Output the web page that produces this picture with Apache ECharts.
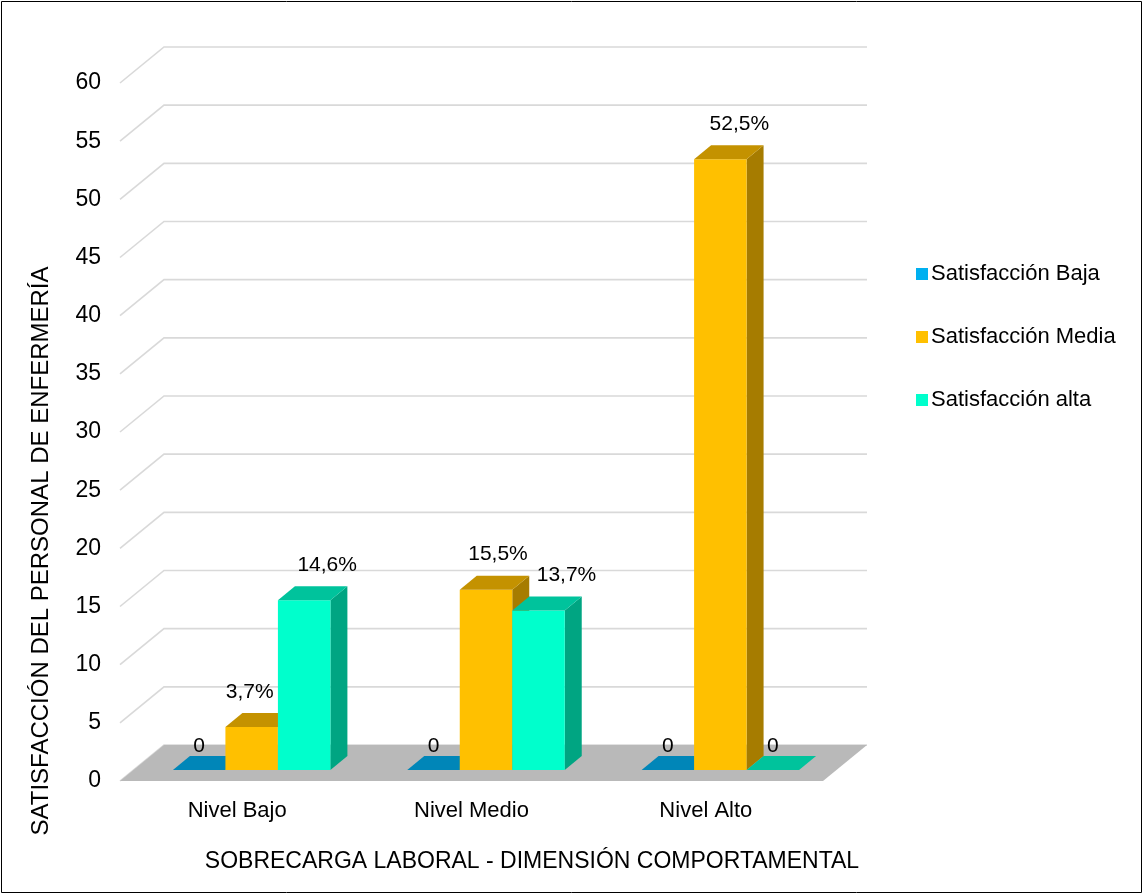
<!DOCTYPE html>
<html>
<head>
<meta charset="utf-8">
<script src="https://cdn.jsdelivr.net/npm/echarts@6/dist/echarts.min.js"></script>
<style>
  html, body { margin: 0; padding: 0; background: #fff; }
  #chart { width: 1144px; height: 896px; }
</style>
</head>
<body>
<div id="chart"></div>
<script>
// ---- data ----
const categories = ['Nivel Bajo', 'Nivel Medio', 'Nivel Alto'];
const seriesNames = ['Satisfacción Baja', 'Satisfacción Media', 'Satisfacción alta'];
const satisfaccionBaja = [0, 0, 0];
const satisfaccionMedia = [3.7, 15.5, 52.5];
const satisfaccionAlta = [14.6, 13.7, 0];
const yTicks = [0, 5, 10, 15, 20, 25, 30, 35, 40, 45, 50, 55, 60];

const xTitle = 'SOBRECARGA LABORAL - DIMENSIÓN COMPORTAMENTAL';
const yTitle = 'SATISFACCIÓN DEL PERSONAL DE ENFERMERÍA';

// ---- styling ----
const FONT = '"Liberation Sans", Arial, sans-serif';
const faceColors = [
  { front: '#00B0F0', top: '#0086B8', side: '#006E99' },
  { front: '#FFC000', top: '#C49200', side: '#A67C00' },
  { front: '#00FFCC', top: '#00C39C', side: '#00A582' }
];
const WALL_DEPTH = [44, -36];   // floor / side wall depth vector
const BAR_SHIFT = [14.5, -11];  // bars stand a little behind the front edge
const BAR_DEPTH = [17, -14];    // depth of each column
const BAR_FRACTION = 0.224;     // column width as a share of the category band
// extra horizontal offsets for the value labels (series x category)
const labelNudgeX = [[0, 0, 0], [-19, -5, 2], [6, 11, 0]];

const valuesBySeries = [satisfaccionBaja, satisfaccionMedia, satisfaccionAlta];

function fmt(v) {
  return v === 0 ? '0' : v.toFixed(1).replace('.', ',') + '%';
}

function barSeries(sIdx) {
  const col = faceColors[sIdx];
  return {
    type: 'custom',
    name: seriesNames[sIdx],
    z: 3,
    itemStyle: { color: col.front },
    data: valuesBySeries[sIdx].map((v, i) => [i, v]),
    encode: { x: 0, y: 1 },
    renderItem: function (params, api) {
      const cat = api.value(0);
      const v = api.value(1);
      const base = api.coord([cat, 0]);
      const top = api.coord([cat, v]);
      const band = api.size([1, 0])[0];
      const bw = band * BAR_FRACTION;
      const x0 = base[0] - 1.5 * bw + sIdx * bw + BAR_SHIFT[0];
      const x1 = x0 + bw;
      const yb = base[1] + BAR_SHIFT[1];
      const yt = top[1] + BAR_SHIFT[1];
      const dx = BAR_DEPTH[0], dy = BAR_DEPTH[1];
      const children = [];
      if (v > 0) {
        children.push({
          type: 'polygon', z2: sIdx * 3,
          shape: { points: [[x1, yb], [x1 + dx, yb + dy], [x1 + dx, yt + dy], [x1, yt]] },
          style: { fill: col.side }
        });
        children.push({
          type: 'rect', z2: sIdx * 3 + 1,
          shape: { x: x0, y: yt, width: bw, height: yb - yt },
          style: { fill: col.front }
        });
      }
      children.push({
        type: 'polygon', z2: sIdx * 3 + 2,
        shape: { points: [[x0, yt], [x1, yt], [x1 + dx, yt + dy], [x0 + dx, yt + dy]] },
        style: { fill: col.top }
      });
      const cx = (x0 + x1) / 2;
      const lx = v > 0 ? cx + dx + labelNudgeX[sIdx][cat] : cx;
      const ly = v > 0 ? yt - 35 : yt - 24;
      children.push({
        type: 'text', z2: 50,
        style: {
          text: fmt(v), x: lx, y: ly, align: 'center', verticalAlign: 'middle',
          font: '21px ' + FONT, fill: '#000'
        }
      });
      return { type: 'group', children: children };
    }
  };
}

const option = {
  animation: false,
  backgroundColor: '#fff',
  grid: { left: 120, right: 321, top: 83, bottom: 115 },
  xAxis: {
    type: 'category',
    data: categories,
    axisLine: { show: false },
    axisTick: { show: false },
    splitLine: { show: false },
    axisLabel: { fontSize: 22, fontFamily: FONT, color: '#000', margin: 19 }
  },
  yAxis: {
    type: 'value',
    min: 0, max: 60, interval: 5,
    axisLine: { show: false },
    axisTick: { show: false },
    splitLine: { show: false },
    axisLabel: { fontSize: 23, fontFamily: FONT, color: '#000', margin: 19 }
  },
  legend: {
    data: seriesNames,
    orient: 'vertical',
    left: 911, top: 258,
    icon: 'rect',
    itemWidth: 12, itemHeight: 12, itemGap: 41,
    textStyle: { fontSize: 22, fontFamily: FONT, color: '#000', padding: [0, 0, 0, -2] }
  },
  graphic: [
    {
      type: 'rect', silent: true,
      shape: { x: 1.5, y: 1.5, width: 1140, height: 891 },
      style: { fill: 'none', stroke: '#000', lineWidth: 1 }
    },
    {
      type: 'text', x: 532, y: 862,
      style: { text: xTitle, font: '23px ' + FONT, fill: '#000', align: 'center', verticalAlign: 'middle' }
    },
    {
      type: 'text', x: 41, y: 551, rotation: Math.PI / 2,
      style: { text: yTitle, font: '24px ' + FONT, fill: '#000', align: 'center', verticalAlign: 'middle' }
    }
  ],
  series: [
    {
      // back and side wall gridlines
      type: 'custom', z: 1, silent: true,
      data: yTicks.map(t => [0, t]),
      encode: { x: 0, y: 1 },
      renderItem: function (params, api) {
        const cs = params.coordSys;
        const y = api.coord([0, api.value(1)])[1];
        const [dx, dy] = WALL_DEPTH;
        return {
          type: 'polyline',
          shape: { points: [[cs.x, y], [cs.x + dx, y + dy], [cs.x + cs.width + dx, y + dy]] },
          style: { stroke: '#D9D9D9', lineWidth: 1.6, fill: null }
        };
      }
    },
    {
      // floor
      type: 'custom', z: 2, silent: true,
      data: [[0, 0]],
      encode: { x: 0, y: 1 },
      renderItem: function (params, api) {
        const cs = params.coordSys;
        const y = api.coord([0, 0])[1];
        const [dx, dy] = WALL_DEPTH;
        return {
          type: 'polygon',
          shape: { points: [[cs.x, y], [cs.x + cs.width, y], [cs.x + cs.width + dx, y + dy], [cs.x + dx, y + dy]] },
          style: { fill: '#B9B9B9' }
        };
      }
    },
    barSeries(0),
    barSeries(1),
    barSeries(2)
  ]
};

const chart = echarts.init(document.getElementById('chart'), null, { renderer: 'canvas' });
chart.setOption(option);
</script>
</body>
</html>
